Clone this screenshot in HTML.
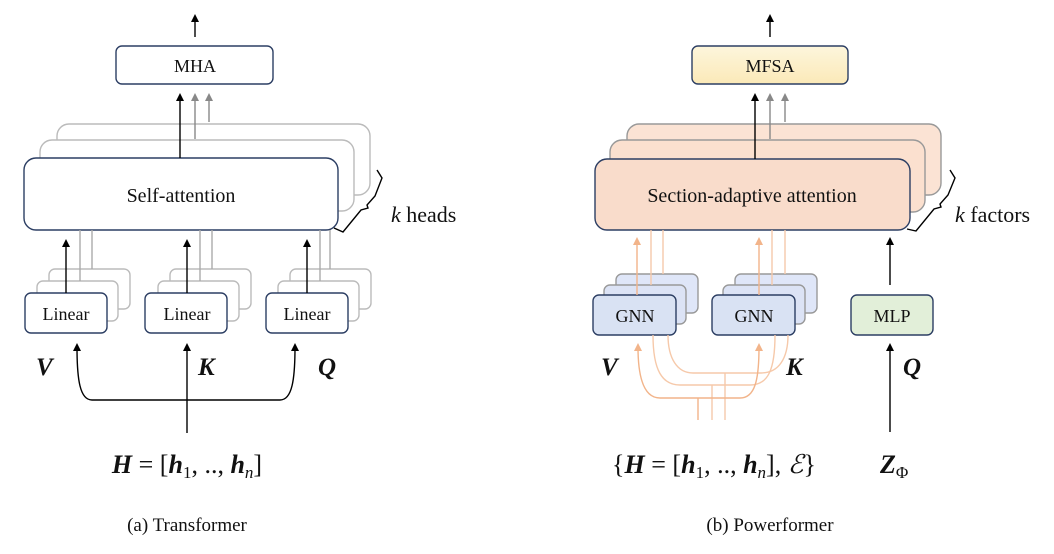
<!DOCTYPE html>
<html><head><meta charset="utf-8"><style>
html,body{margin:0;padding:0;background:#fff;}
svg{display:block;}
text{font-family:"Liberation Serif",serif;}
</style></head><body>
<svg width="1054" height="554" viewBox="0 0 1054 554" xmlns="http://www.w3.org/2000/svg">
<defs>
<marker id="ab" markerWidth="8" markerHeight="8" refX="4" refY="4" orient="auto-start-reverse" markerUnits="userSpaceOnUse"><path d="M0,8 L4,0 L8,8 Z" transform="rotate(90 4 4)" fill="#000"/></marker>
<marker id="ag" markerWidth="8" markerHeight="8" refX="4" refY="4" orient="auto-start-reverse" markerUnits="userSpaceOnUse"><path d="M0,8 L4,0 L8,8 Z" transform="rotate(90 4 4)" fill="#888"/></marker>
<marker id="ao" markerWidth="8" markerHeight="8" refX="4" refY="4" orient="auto-start-reverse" markerUnits="userSpaceOnUse"><path d="M0,8 L4,0 L8,8 Z" transform="rotate(90 4 4)" fill="#f2b48a"/></marker>
<linearGradient id="gy" x1="0" y1="0" x2="0" y2="1"><stop offset="0" stop-color="#fdf6dc"/><stop offset="1" stop-color="#fbe9b8"/></linearGradient>
</defs>
<g stroke-width="1.4" fill="none">
<!-- LEFT PANEL -->
<line x1="195" y1="37" x2="195" y2="18" stroke="#000" marker-end="url(#ab)"/>
<rect x="116" y="46" width="157" height="38" rx="6" fill="#fff" stroke="#2c3e63"/>
<rect x="57" y="124" width="313" height="71" rx="12" fill="#fff" stroke="#bbb"/>
<rect x="40" y="140" width="314" height="71" rx="12" fill="#fff" stroke="#bbb"/>
<rect x="24" y="158" width="314" height="72" rx="12" fill="#fff" stroke="#2c3e63"/>
<line x1="180" y1="158" x2="180" y2="97" stroke="#000" marker-end="url(#ab)"/>
<line x1="195" y1="139" x2="195" y2="97" stroke="#888" marker-end="url(#ag)"/>
<line x1="209" y1="122" x2="209" y2="97" stroke="#888" marker-end="url(#ag)"/>
<path d="M334,228 L343,232 L361,210 L368,208 L367,205 L375,196 L382,178 L377,170" stroke="#000"/>
<!-- Linear groups -->
<g>
<rect x="49" y="269" width="81" height="40" rx="6" fill="#fff" stroke="#bbb"/>
<rect x="37" y="281" width="81" height="40" rx="6" fill="#fff" stroke="#bbb"/>
<rect x="170" y="269" width="81" height="40" rx="6" fill="#fff" stroke="#bbb"/>
<rect x="158" y="281" width="81" height="40" rx="6" fill="#fff" stroke="#bbb"/>
<rect x="290" y="269" width="81" height="40" rx="6" fill="#fff" stroke="#bbb"/>
<rect x="278" y="281" width="81" height="40" rx="6" fill="#fff" stroke="#bbb"/>
<line x1="80" y1="230" x2="80" y2="281" stroke="#aaa"/><line x1="92" y1="230" x2="92" y2="269" stroke="#aaa"/>
<line x1="200" y1="230" x2="200" y2="281" stroke="#aaa"/><line x1="212" y1="230" x2="212" y2="269" stroke="#aaa"/>
<line x1="320" y1="230" x2="320" y2="281" stroke="#aaa"/><line x1="330" y1="230" x2="330" y2="269" stroke="#aaa"/>
<rect x="25" y="293" width="82" height="40" rx="6" fill="#fff" stroke="#2c3e63"/>
<rect x="145" y="293" width="82" height="40" rx="6" fill="#fff" stroke="#2c3e63"/>
<rect x="266" y="293" width="82" height="40" rx="6" fill="#fff" stroke="#2c3e63"/>
<line x1="66" y1="293" x2="66" y2="243" stroke="#000" marker-end="url(#ab)"/>
<line x1="187" y1="293" x2="187" y2="243" stroke="#000" marker-end="url(#ab)"/>
<line x1="307" y1="293" x2="307" y2="243" stroke="#000" marker-end="url(#ab)"/>
</g>
<path d="M187,433 L187,347" stroke="#000" marker-end="url(#ab)"/>
<path d="M77,347 C77,380 80,400 92,400 L280,400 C292,400 295,380 295,347" stroke="#000" marker-start="url(#ab)" marker-end="url(#ab)"/>
<!-- RIGHT PANEL -->
<line x1="770" y1="37" x2="770" y2="18" stroke="#000" marker-end="url(#ab)"/>
<rect x="692" y="46" width="156" height="38" rx="6" fill="url(#gy)" stroke="#2c3e63"/>
<rect x="627" y="124" width="314" height="71" rx="12" fill="#fbe3d4" stroke="#999"/>
<rect x="610" y="140" width="315" height="72" rx="12" fill="#fbe0cf" stroke="#999"/>
<rect x="595" y="159" width="315" height="71" rx="12" fill="#f9dccb" stroke="#2c3e63"/>
<line x1="755" y1="159" x2="755" y2="97" stroke="#000" marker-end="url(#ab)"/>
<line x1="770" y1="139" x2="770" y2="97" stroke="#888" marker-end="url(#ag)"/>
<line x1="785" y1="122" x2="785" y2="97" stroke="#888" marker-end="url(#ag)"/>
<path d="M907,229 L916,231 L934,209 L941,207 L940,204 L948,195 L955,178 L950,170" stroke="#000"/>
<!-- GNN -->
<rect x="616" y="274" width="82" height="39" rx="6" fill="#dfe6f8" stroke="#999"/>
<rect x="604" y="285" width="82" height="39" rx="6" fill="#dce3f5" stroke="#999"/>
<rect x="735" y="274" width="82" height="39" rx="6" fill="#dfe6f8" stroke="#999"/>
<rect x="723" y="285" width="82" height="39" rx="6" fill="#dce3f5" stroke="#999"/>
<g stroke="#f6c9aa">
<line x1="651" y1="230" x2="651" y2="285"/><line x1="663" y1="230" x2="663" y2="274"/>
<line x1="772" y1="230" x2="772" y2="285"/><line x1="785" y1="230" x2="785" y2="274"/>
</g>
<rect x="593" y="295" width="83" height="40" rx="6" fill="#d9e2f3" stroke="#2c3e63"/>
<rect x="712" y="295" width="83" height="40" rx="6" fill="#d9e2f3" stroke="#2c3e63"/>
<line x1="637" y1="295" x2="637" y2="241" stroke="#f2b48a" marker-end="url(#ao)"/>
<line x1="759" y1="295" x2="759" y2="241" stroke="#f2b48a" marker-end="url(#ao)"/>
<rect x="851" y="295" width="82" height="40" rx="6" fill="#e2efd9" stroke="#2c3e63"/>
<line x1="890" y1="285" x2="890" y2="241" stroke="#000" marker-end="url(#ab)"/>
<line x1="890" y1="432" x2="890" y2="347" stroke="#000" marker-end="url(#ab)"/>
<!-- orange routing -->
<g stroke="#f6c9aa">
<path d="M653,335 C653,370 662,385 680,385 L750,385 C768,385 775,370 775,335"/>
<path d="M668,335 C668,358 677,373 693,373 L761,373 C779,373 788,358 788,335"/>
<line x1="712" y1="385" x2="712" y2="420"/>
<line x1="725" y1="373" x2="725" y2="420"/>
</g>
<path d="M638,347 C638,380 645,398 660,398 L740,398 C755,398 759,380 759,347" stroke="#f2b48a" marker-start="url(#ao)" marker-end="url(#ao)"/>
<line x1="698" y1="398" x2="698" y2="420" stroke="#f2b48a"/>
</g>
<g fill="#111" font-size="18" text-anchor="middle">
<text x="195" y="72">MHA</text>
<text x="181" y="202" font-size="20">Self-attention</text>
<text x="66" y="320">Linear</text>
<text x="187" y="320">Linear</text>
<text x="307" y="320">Linear</text>
<text x="770" y="72">MFSA</text>
<text x="752" y="202" font-size="20">Section-adaptive attention</text>
<text x="635" y="322">GNN</text>
<text x="754" y="322">GNN</text>
<text x="892" y="322">MLP</text>
</g>
<g fill="#111" font-size="22">
<text x="391" y="222"><tspan font-style="italic">k</tspan> heads</text>
<text x="955" y="222"><tspan font-style="italic">k</tspan>  factors</text>
<g font-weight="bold" font-style="italic" font-size="25">
<text x="36" y="375">V</text><text x="198" y="375">K</text><text x="318" y="375">Q</text>
<text x="601" y="375">V</text><text x="786" y="375">K</text><text x="903" y="375">Q</text>
</g>
<text x="187" y="473" text-anchor="middle" font-size="26"><tspan font-weight="bold" font-style="italic">H</tspan> = [<tspan font-weight="bold" font-style="italic">h</tspan><tspan font-size="17" dy="5">1</tspan><tspan dy="-5">, .., </tspan><tspan font-weight="bold" font-style="italic">h</tspan><tspan font-size="17" font-style="italic" dy="5">n</tspan><tspan dy="-5">]</tspan></text>
<text x="714" y="473" text-anchor="middle" font-size="26">{<tspan font-weight="bold" font-style="italic">H</tspan> = [<tspan font-weight="bold" font-style="italic">h</tspan><tspan font-size="17" dy="5">1</tspan><tspan dy="-5">, .., </tspan><tspan font-weight="bold" font-style="italic">h</tspan><tspan font-size="17" font-style="italic" dy="5">n</tspan><tspan dy="-5">], </tspan><tspan font-style="italic">ℰ</tspan>}</text>
<text x="880" y="473" font-size="26"><tspan font-weight="bold" font-style="italic">Z</tspan><tspan font-size="17" dy="5">Φ</tspan></text>
<text x="187" y="531" text-anchor="middle" font-size="19">(a) Transformer</text>
<text x="770" y="531" text-anchor="middle" font-size="19">(b) Powerformer</text>
</g>
</svg>
</body></html>
